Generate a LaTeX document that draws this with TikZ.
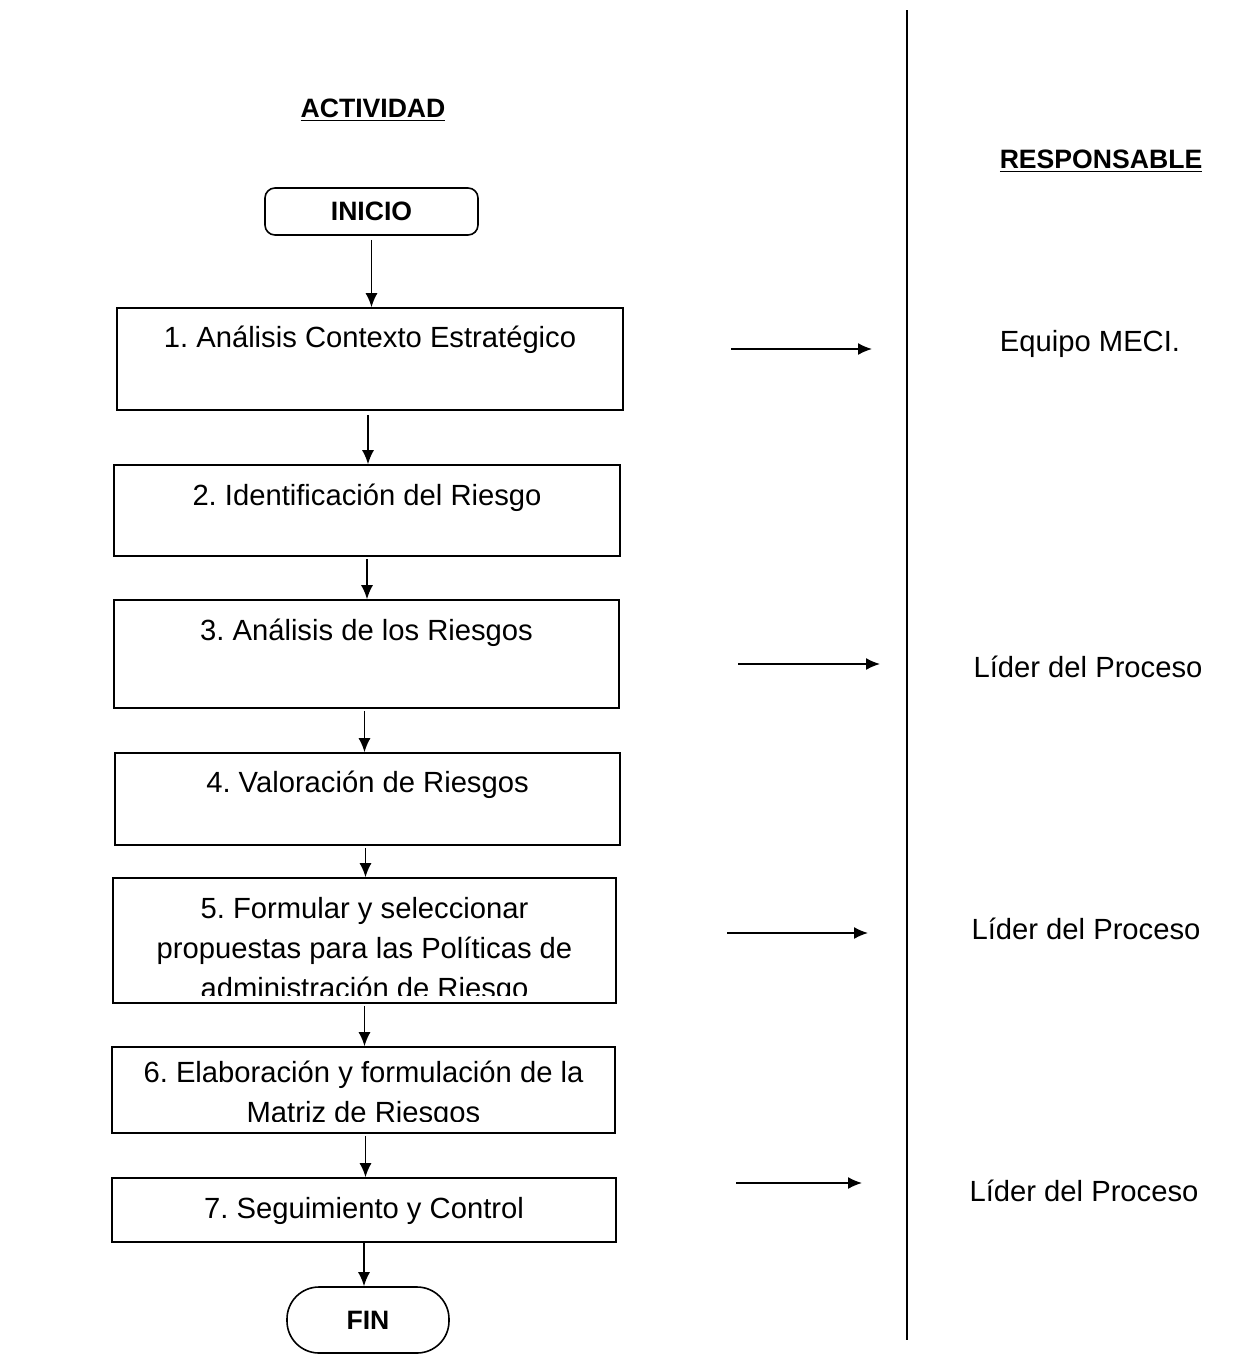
\documentclass[tikz,border=0pt]{standalone}
\usepackage{fontspec}
\setmainfont{Liberation Sans}
\usetikzlibrary{arrows.meta}
\frenchspacing

\begin{document}
\begin{tikzpicture}[x=0.5pt, y=-0.5pt, line width=0.8pt,
    flow/.style={-{Latex[length=7pt,width=6pt]}},
    endbox/.style={draw, rounded corners=#1, inner sep=0pt, font=\fontsize{13.3}{16}\selectfont\bfseries},
    actbox/.style={draw, inner sep=0pt},
    acttext/.style={font=\fontsize{14.6}{20}\selectfont, align=center, inner sep=0pt},
    title/.style={anchor=base, inner sep=0pt, font=\fontsize{13.3}{16}\selectfont\bfseries}]
    \useasboundingbox (0,0) rectangle (1252,1371);
    % titles and the column line
    \node[title] (act) at (373,117) {\underline{ACTIVIDAD}};
    \node[title] (resp) at (1101,168) {\underline{RESPONSABLE}};
    \draw (907,10) -- (907,1340);
    % start and end
    \node[endbox=5pt, minimum width=106.5pt, minimum height=23.5pt] (ini) at (371.5,211.5) {INICIO};
    \node[endbox=16pt, minimum width=81pt, minimum height=33pt] (fin) at (368,1320) {FIN};
    % activity boxes
    \node[actbox, minimum width=253pt, minimum height=51pt] (b1) at (370,359) {};
    \node[actbox, minimum width=253pt, minimum height=45.5pt] (b2) at (367,510.5) {};
    \node[actbox, minimum width=252.5pt, minimum height=54pt] (b3) at (366.5,654) {};
    \node[actbox, minimum width=252.5pt, minimum height=46pt] (b4) at (367.5,799) {};
    \node[actbox, minimum width=251.5pt, minimum height=62.5pt] (b5) at (364.5,940.5) {};
    \node[actbox, minimum width=251.5pt, minimum height=43pt] (b6) at (363.5,1090) {};
    \node[actbox, minimum width=252pt, minimum height=32pt] (b7) at (364,1210) {};
    \node[acttext, anchor=base] (t1) at ([yshift=-20pt]b1.north) {1. Análisis Contexto Estratégico};
    \node[acttext, anchor=base] (t2) at ([yshift=-20.5pt]b2.north) {2. Identificación del Riesgo};
    \node[acttext, anchor=base] (t3) at ([yshift=-20.5pt]b3.north) {3. Análisis de los Riesgos};
    \node[acttext, anchor=base] (t4) at ([yshift=-20pt]b4.north) {4. Valoración de Riesgos};
    \begin{scope}
        \clip (113,878) rectangle (616,995);
        \node[acttext, anchor=north] (t5) at ([yshift=-9.5pt]b5.north) {5. Formular y seleccionar\\propuestas para las Políticas de\\administración de Riesgo};
    \end{scope}
    \begin{scope}
        \clip (112,1047) rectangle (615,1121);
        \node[acttext, anchor=north] (t6) at ([yshift=-7pt]b6.north) {6. Elaboración y formulación de la\\Matriz de Riesgos};
    \end{scope}
    \node[acttext, anchor=base] (t7) at ([yshift=-20.5pt]b7.north) {7. Seguimiento y Control};
    % flow
    \draw[flow] ([yshift=-2pt]ini.south) -- (ini.south |- b1.north);
    \draw[flow] ([xshift=-1pt,yshift=-2pt]b1.south) -- ([xshift=-1pt]b1.south |- b2.north);
    \draw[flow] ([yshift=-1pt]b2.south) -- (b2.south |- b3.north);
    \draw[flow] ([xshift=-1pt,yshift=-1pt]b3.south) -- ([xshift=-1pt]b3.south |- b4.north);
    \draw[flow] ([xshift=-1pt,yshift=-1pt]b4.south) -- ([xshift=-1pt]b4.south |- b5.north);
    \draw[flow] ([yshift=-1pt]b5.south) -- (b5.south |- b6.north);
    \draw[flow] ([xshift=1pt,yshift=-1pt]b6.south) -- ([xshift=1pt]b6.south |- b7.north);
    \draw[flow] (b7.south) -- (b7.south |- fin.north);
    % responsible
    \node[acttext, anchor=base] (r1) at (1090,351) {Equipo MECI.};
    \node[acttext, anchor=base] (r3) at (1088,677) {Líder del Proceso};
    \node[acttext, anchor=base] (r5) at (1086,939) {Líder del Proceso};
    \node[acttext, anchor=base] (r7) at (1084,1201) {Líder del Proceso};
    \coordinate (p1) at (731,349); \coordinate (q1) at (872,349);
    \coordinate (p3) at (738,664); \coordinate (q3) at (880,664);
    \coordinate (p5) at (727,933); \coordinate (q5) at (868,933);
    \coordinate (p7) at (736,1183); \coordinate (q7) at (862,1183);
    \draw[flow] (p1) -- (q1);
    \draw[flow] (p3) -- (q3);
    \draw[flow] (p5) -- (q5);
    \draw[flow] (p7) -- (q7);
\end{tikzpicture}
\end{document}
